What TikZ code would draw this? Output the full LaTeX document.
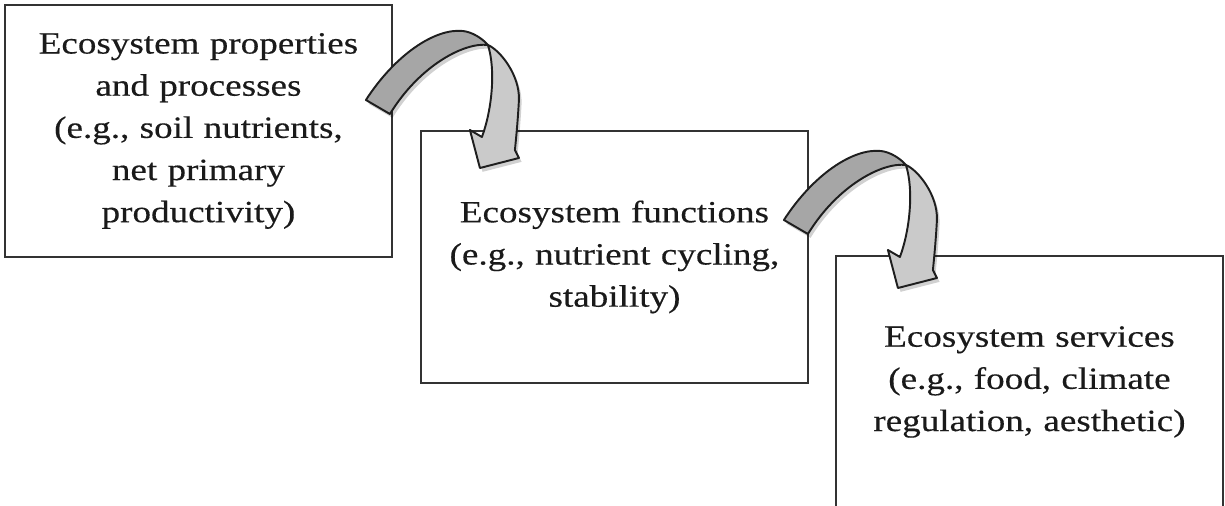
\documentclass[tikz,border=0pt]{standalone}
\usepackage{fontspec}
\setmainfont{Liberation Serif}[FakeStretch=1.2, FakeBold=0.35]

\definecolor{boxline}{HTML}{333333}
\definecolor{txtgray}{HTML}{1A1A1A}
\definecolor{bandDark}{HTML}{A6A6A6}
\definecolor{bandLight}{HTML}{CACACA}
\definecolor{bandLine}{HTML}{1E1E1E}

\tikzset{
  box/.style={draw=boxline, line width=1.2pt, anchor=north west, outer sep=0pt,
    minimum width=7.74cm, minimum height=5.04cm, inner sep=0pt,
    text width=7.3cm, align=center, text=txtgray,
    font=\fontsize{17.6pt}{24pt}\selectfont},
  band/.style={draw=bandLine, line width=1.1pt, line join=round,
    preaction={fill=black, opacity=0.18, transform canvas={xshift=1.5pt, yshift=-2.2pt}}},
  % gedrehter Pfeil, Ursprung an der oberen rechten Ecke der Box
  twistarrow/.pic={
    \path[band, fill=bandDark] (-26,95) .. controls (3,50) and (43,23) .. (71,26)
      .. controls (80,27) and (90,33) .. (96,40)
      .. controls (73,37) and (28,60) .. (-2,109) -- cycle;
    \path[band, fill=bandLight] (96,40) .. controls (108,45) and (128,70) .. (127,95)
      .. controls (126,115) and (124,135) .. (123,145) -- (127,153) -- (88,163)
      -- (78,125) -- (90,132) .. controls (100,105) and (104,65) .. (96,40) -- cycle;
  }
}

\begin{document}
\begin{tikzpicture}[x=0.02cm, y=-0.02cm]
  \useasboundingbox (0,0) rectangle (1225,506);
  \clip (0,0) rectangle (1225,506);

  % === Boxen ===
  \node[box] (props) at (5,5) {Ecosystem properties\\and processes\\(e.g., soil nutrients,\\net primary\\productivity)};
  \node[box] (funcs) at (421,131) {Ecosystem functions\\(e.g., nutrient cycling,\\stability)};
  \node[box] (servs) at (836,256) {Ecosystem services\\(e.g., food, climate\\regulation, aesthetic)};

  % === Pfeile ===
  \pic at (props.north east) {twistarrow};
  \pic at ([shift={(2,-6)}]funcs.north east) {twistarrow};
\end{tikzpicture}
\end{document}
